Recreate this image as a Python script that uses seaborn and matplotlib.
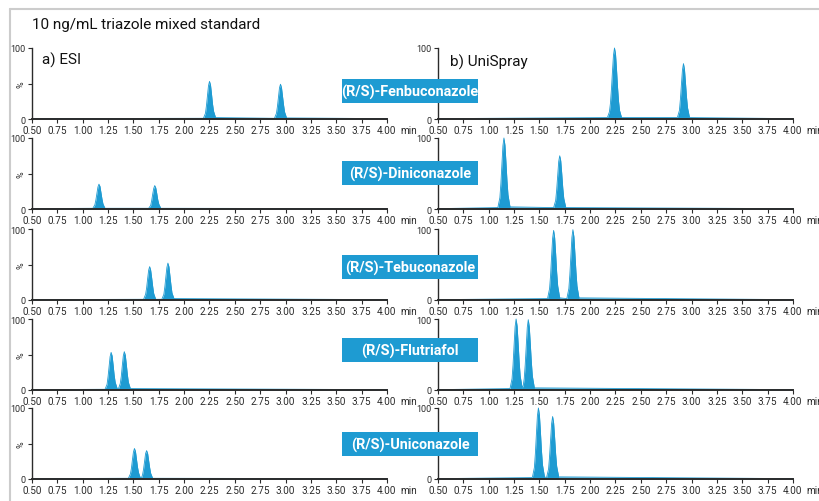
import matplotlib
matplotlib.use("Agg")
import matplotlib.pyplot as plt
import seaborn as sns
from matplotlib.patches import Rectangle
from matplotlib.lines import Line2D

# chromatogram data, retention time (min) and relative intensity (%)
compounds = ["(R/S)-Fenbuconazole", "(R/S)-Diniconazole", "(R/S)-Tebuconazole",
             "(R/S)-Flutriafol", "(R/S)-Uniconazole"]
x_ticks = [0.50, 0.75, 1.00, 1.25, 1.50, 1.75, 2.00, 2.25, 2.50, 2.75, 3.00, 3.25, 3.50, 3.75, 4.00]
x_tick_labels = ["0.50", "0.75", "1.00", "1.25", "1.50", "1.75", "2.00", "2.25", "2.50",
                 "2.75", "3.00", "3.25", "3.50", "3.75", "4.00"]

# a) ESI
esi_fenbu_t = [0.50, 2.19, 2.21, 2.22, 2.23, 2.24, 2.25, 2.26, 2.27, 2.28, 2.29, 2.31,
               2.89, 2.91, 2.92, 2.93, 2.94, 2.95, 2.96, 2.97, 2.98, 2.99, 3.01, 4.00]
esi_fenbu_y = [0.5, 1, 8, 19, 33, 47, 53, 48, 35, 21, 11, 2,
               1, 8, 18, 31, 44, 49, 44, 32, 20, 10, 1.5, 0.5]
esi_dini_t = [0.50, 1.10, 1.12, 1.13, 1.14, 1.15, 1.16, 1.17, 1.18, 1.19, 1.20, 1.22,
              1.65, 1.67, 1.68, 1.69, 1.70, 1.71, 1.72, 1.73, 1.74, 1.75, 1.77, 4.00]
esi_dini_y = [0.5, 1, 6, 13, 22, 31, 35, 32, 23, 14, 7, 1,
              1, 5, 12, 21, 29, 33, 30, 22, 13, 7, 1, 0.5]
esi_tebu_t = [0.50, 1.60, 1.62, 1.63, 1.64, 1.65, 1.66, 1.67, 1.68, 1.69, 1.70, 1.72,
              1.78, 1.80, 1.81, 1.82, 1.83, 1.84, 1.85, 1.86, 1.87, 1.88, 1.90, 4.00]
esi_tebu_y = [0.5, 1, 8, 17, 30, 42, 47, 42, 31, 19, 9, 1,
              1, 8, 19, 33, 46, 52, 47, 34, 21, 10, 2, 0.5]
esi_flut_t = [0.50, 1.22, 1.24, 1.25, 1.26, 1.27, 1.28, 1.29, 1.30, 1.31, 1.32, 1.34,
              1.35, 1.37, 1.38, 1.39, 1.40, 1.41, 1.42, 1.43, 1.44, 1.45, 1.47, 4.00]
esi_flut_y = [0.5, 1, 8, 19, 33, 47, 53, 48, 35, 21, 11, 2,
              1, 9, 19, 34, 48, 54, 49, 36, 22, 11, 2, 0.5]
esi_unic_t = [0.50, 1.45, 1.47, 1.48, 1.49, 1.50, 1.51, 1.52, 1.53, 1.54, 1.55, 1.57,
              1.58, 1.59, 1.60, 1.61, 1.62, 1.63, 1.64, 1.65, 1.66, 1.67, 1.69, 4.00]
esi_unic_y = [0.5, 1, 7, 15, 27, 38, 43, 39, 28, 17, 9, 1,
              2, 6, 14, 25, 36, 40, 36, 26, 16, 8, 1, 0.5]

# b) UniSpray
uni_fenbu_t = [0.50, 2.17, 2.19, 2.20, 2.21, 2.22, 2.23, 2.24, 2.25, 2.26, 2.27, 2.28, 2.29, 2.31,
               2.86, 2.88, 2.89, 2.90, 2.91, 2.92, 2.93, 2.94, 2.95, 2.96, 2.98, 4.00]
uni_fenbu_y = [0.5, 2, 10, 22, 42, 67, 90, 100, 92, 70, 45, 25, 12, 2,
               2, 12, 28, 49, 69, 78, 70, 51, 31, 16, 2, 0.5]
uni_dini_t = [0.50, 1.09, 1.11, 1.12, 1.13, 1.14, 1.15, 1.16, 1.17, 1.18, 1.19, 1.21,
              1.64, 1.66, 1.67, 1.68, 1.69, 1.70, 1.71, 1.72, 1.73, 1.74, 1.76, 4.00]
uni_dini_y = [0.5, 2, 16, 36, 63, 89, 100, 90, 66, 40, 20, 3,
              2, 12, 27, 47, 67, 75, 68, 50, 30, 15, 2, 0.5]
uni_tebu_t = [0.50, 1.58, 1.60, 1.61, 1.62, 1.63, 1.64, 1.65, 1.66, 1.67, 1.68, 1.70,
              1.77, 1.79, 1.80, 1.81, 1.82, 1.83, 1.84, 1.85, 1.86, 1.87, 1.89, 4.00]
uni_tebu_y = [0.5, 2, 16, 35, 62, 87, 98, 88, 65, 39, 20, 3,
              2, 16, 36, 62, 88, 99, 89, 65, 40, 20, 3, 0.5]
uni_flut_t = [0.50, 1.21, 1.23, 1.24, 1.25, 1.26, 1.27, 1.28, 1.29, 1.30, 1.31, 1.33,
              1.34, 1.35, 1.36, 1.37, 1.38, 1.39, 1.40, 1.41, 1.42, 1.43, 1.45, 4.00]
uni_flut_y = [0.5, 2, 16, 36, 63, 89, 100, 90, 66, 40, 20, 3,
              6, 16, 36, 62, 88, 99, 89, 65, 40, 20, 3, 0.5]
uni_unic_t = [0.50, 1.43, 1.45, 1.46, 1.47, 1.48, 1.49, 1.50, 1.51, 1.52, 1.53, 1.55,
              1.57, 1.59, 1.60, 1.61, 1.62, 1.63, 1.64, 1.65, 1.66, 1.67, 1.69, 4.00]
uni_unic_y = [0.5, 2, 16, 36, 63, 89, 100, 90, 66, 40, 20, 3,
              2, 14, 32, 55, 78, 88, 79, 58, 35, 18, 3, 0.5]

esi_traces = [(esi_fenbu_t, esi_fenbu_y), (esi_dini_t, esi_dini_y), (esi_tebu_t, esi_tebu_y),
              (esi_flut_t, esi_flut_y), (esi_unic_t, esi_unic_y)]
uni_traces = [(uni_fenbu_t, uni_fenbu_y), (uni_dini_t, uni_dini_y), (uni_tebu_t, uni_tebu_y),
              (uni_flut_t, uni_flut_y), (uni_unic_t, uni_unic_y)]

blue = "#1e9bd2"
dark = "#2b2b2b"

sns.set_theme(style="ticks")
plt.rcParams['font.family'] = ['Roboto', 'DejaVu Sans']

W, H = 820, 502
fig = plt.figure(figsize=(W / 100, H / 100), dpi=100)

# axes placement in pixels (bottom of y=0, top at y=100)
row_bottom = [120, 210, 301, 391, 480]
ax_h = 71
col_left = [32, 438]
ax_w = 355
box_centers = [92, 174, 268, 351, 445]
tick_fs = 7.2


def style_axis(ax):
    ax.set_xlim(0.5, 4.0)
    ax.set_ylim(0, 100)
    ax.set_xticks(x_ticks)
    ax.set_xticklabels(x_tick_labels)
    ax.set_yticks([0, 50, 100])
    ax.set_yticklabels(["0", "%", "100"])
    for lab in ax.get_yticklabels():
        if lab.get_text() == "%":
            lab.set_rotation(90)
            lab.set_va("center")
    ax.tick_params(axis="both", labelsize=tick_fs, colors=dark, length=3, width=0.8, pad=1.5)
    ax.tick_params(axis="y", labelsize=6.5)
    for s in ["top", "right"]:
        ax.spines[s].set_visible(False)
    ax.spines["left"].set_color(dark)
    ax.spines["bottom"].set_color(dark)
    ax.spines["left"].set_linewidth(1.0)
    ax.spines["bottom"].set_linewidth(1.4)
    ax.set_xlabel("")
    ax.set_ylabel("")
    ax.patch.set_alpha(0)
    # unit after the last tick label
    ax.annotate("min", xy=(1, 0), xycoords="axes fraction", xytext=(9.5, -4.5),
                textcoords="offset points", ha="left", va="top", fontsize=tick_fs, color=dark)


for col, traces in enumerate([esi_traces, uni_traces]):
    for row, (t, y) in enumerate(traces):
        b = row_bottom[row]
        ax = fig.add_axes([col_left[col] / W, 1 - b / H, ax_w / W, ax_h / H])
        ax.fill_between(t, 0, y, color=blue, linewidth=0, clip_on=False)
        sns.lineplot(x=t, y=y, ax=ax, color=blue, linewidth=0.6, clip_on=False)
        style_axis(ax)

# compound label boxes between the columns
box_w, box_h = 136, 24
for name, cy in zip(compounds, box_centers):
    fig.patches.append(Rectangle(((410 - box_w / 2) / W, 1 - (cy + box_h / 2) / H),
                                 box_w / W, box_h / H, transform=fig.transFigure,
                                 facecolor=blue, edgecolor="none", zorder=5))
    fig.text(410 / W, 1 - cy / H, name, ha="center", va="center", color="white",
             fontsize=10.4, fontweight="bold", zorder=6)

fig.text(32 / W, 1 - 25 / H, "10 ng/mL triazole mixed standard", ha="left", va="center",
         fontsize=11, color="#111111")
fig.text(42 / W, 1 - 60 / H, "a) ESI", ha="left", va="center", fontsize=11, color="#111111")
fig.text(450 / W, 1 - 62 / H, "b) UniSpray", ha="left", va="center", fontsize=11, color="#111111")

# light gray frame on top and left
frame = "#cccccc"
fig.lines.append(Line2D([10 / W, 1.0], [1 - 10 / H, 1 - 10 / H], transform=fig.transFigure,
                        color=frame, linewidth=1.5))
fig.lines.append(Line2D([10 / W, 10 / W], [1 - 10 / H, 0.0], transform=fig.transFigure,
                        color=frame, linewidth=1.5))

fig.savefig("out.png", dpi=100)
